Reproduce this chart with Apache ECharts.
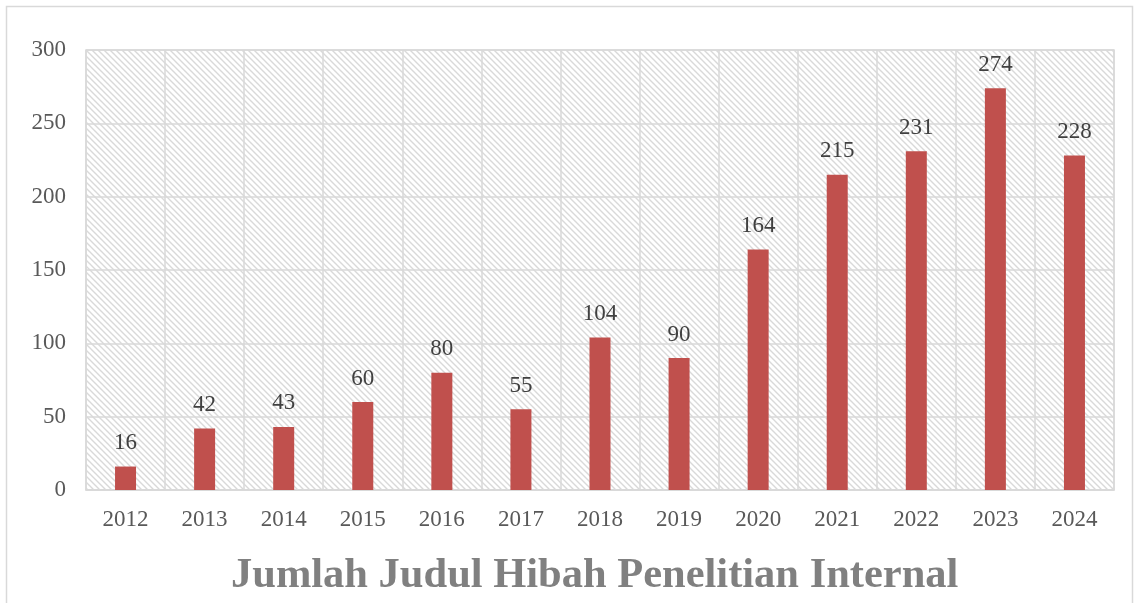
<!DOCTYPE html>
<html><head><meta charset="utf-8">
<script src="https://cdn.jsdelivr.net/npm/echarts@6/dist/echarts.min.js"></script>
<style>html,body{margin:0;padding:0;background:#fff}#c{width:1137px;height:603px}</style>
</head><body><div id="c"></div>
<script>
const categories = ['2012','2013','2014','2015','2016','2017','2018','2019','2020','2021','2022','2023','2024'];
const values = [16,42,43,60,80,55,104,90,164,215,231,274,228];
const yTicks = [0,50,100,150,200,250,300];
const titleText = 'Jumlah Judul Hibah Penelitian Internal';

// hatch pattern
const pc = document.createElement('canvas');
pc.width = 6; pc.height = 6;
const g = pc.getContext('2d');
g.fillStyle = '#ffffff'; g.fillRect(0,0,6,6);
g.strokeStyle = '#d9d9d9'; g.lineWidth = 1.4;
g.beginPath();
g.moveTo(-1,-1); g.lineTo(7,7);
g.moveTo(-1,5); g.lineTo(1,7);
g.moveTo(5,-1); g.lineTo(7,1);
g.stroke();

const chart = echarts.init(document.getElementById('c'), null, {renderer:'canvas'});
chart.setOption({
  animation:false,
  backgroundColor:'#ffffff',
  title:{text:titleText,left:226,top:550,textStyle:{fontFamily:'Liberation Serif',fontWeight:'bold',fontSize:42.5,color:'#808080'}},
  graphic:[{type:'rect',shape:{x:6.5,y:6.5,width:1126,height:610},style:{fill:'none',stroke:'#d9d9d9',lineWidth:1.5},silent:true,z:-1}],
  grid:{left:86,right:23,top:50,bottom:113,show:true,backgroundColor:{image:pc,repeat:'repeat'},borderColor:'#d9d9d9',borderWidth:1.5},
  xAxis:{type:'category',data:categories,
    axisLine:{lineStyle:{color:'#d9d9d9',width:1.5}},axisTick:{show:false},
    splitLine:{show:true,lineStyle:{color:'#d9d9d9',width:1.5}},
    axisLabel:{interval:0,margin:18,fontFamily:'Liberation Serif',fontSize:23,color:'#595959'}},
  yAxis:{type:'value',min:yTicks[0],max:yTicks[yTicks.length-1],interval:50,
    axisLine:{show:false},axisTick:{show:false},
    splitLine:{lineStyle:{color:'#d9d9d9',width:1.5}},
    axisLabel:{margin:20,fontFamily:'Liberation Serif',fontSize:23,color:'#595959'}},
  series:[{type:'bar',data:values,barWidth:21,itemStyle:{color:'#C0504D'},
    label:{show:true,position:'top',distance:12,fontFamily:'Liberation Serif',fontSize:23,color:'#404040'}}]
});
</script></body></html>
